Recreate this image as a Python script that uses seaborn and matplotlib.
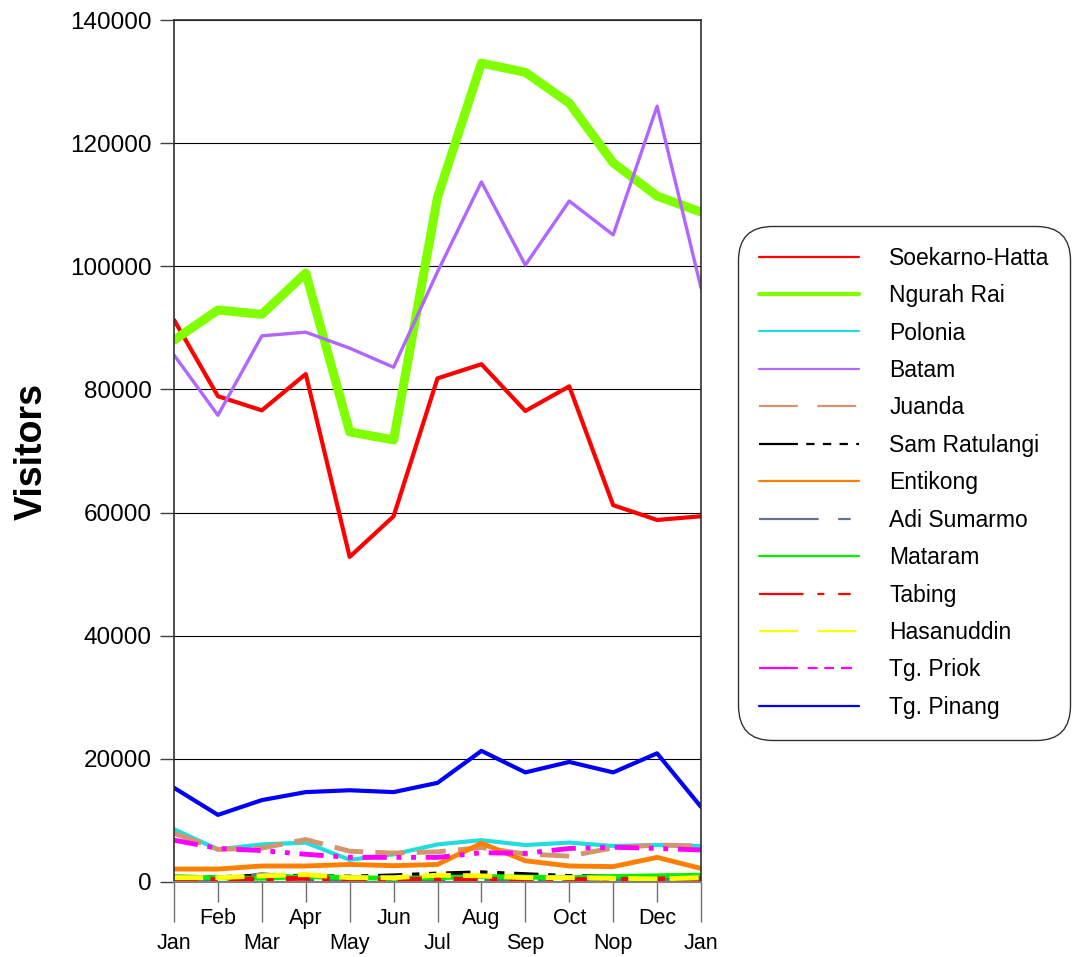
import numpy as np
import matplotlib
matplotlib.use("Agg")
import matplotlib.pyplot as plt
import seaborn as sns

months = ["Jan", "Feb", "Mar", "Apr", "May", "Jun", "Jul", "Aug", "Sep", "Oct", "Nop", "Dec", "Jan"]

soekarno_hatta = [91300, 78900, 76600, 82500, 52800, 59400, 81800, 84100, 76500, 80500, 61200, 58800, 59400]
ngurah_rai = [88000, 92900, 92200, 98900, 73100, 71800, 111200, 133000, 131500, 126500, 116800, 111400, 108800]
polonia = [8560, 5300, 6100, 6400, 3600, 4500, 6100, 6800, 6000, 6400, 5850, 6000, 5850]
batam = [85600, 75800, 88700, 89300, 86700, 83600, 99100, 113700, 100200, 110600, 105100, 126000, 96500]
juanda = [7900, 5300, 5500, 6900, 5000, 4700, 4900, 5600, 4550, 4200, 5550, 6000, 5850]
sam_ratulangi = [800, 700, 1000, 900, 800, 1000, 1300, 1500, 1200, 900, 800, 900, 1000]
entikong = [2100, 2100, 2600, 2600, 2850, 2650, 2850, 6300, 3450, 2600, 2500, 4000, 2200]
adi_sumarmo = [200, 150, 1200, 600, 100, 200, 300, 300, 200, 300, 200, 200, 300]
mataram = [800, 700, 600, 900, 700, 600, 700, 900, 800, 700, 900, 1000, 1100]
tabing = [300, 400, 500, 600, 500, 400, 500, 400, 500, 400, 400, 500, 500]
hasanuddin = [700, 700, 1000, 1200, 700, 700, 1100, 1000, 700, 700, 600, 500, 700]
tg_priok = [6800, 5450, 5100, 4500, 4000, 4000, 4000, 4750, 4650, 5450, 5650, 5450, 5200]
tg_pinang = [15300, 10900, 13300, 14600, 14900, 14600, 16100, 21300, 17800, 19500, 17800, 20900, 12200]

# name, values, colour, line width, dash pattern in plot, dash pattern in legend (pt)
series = [
    ("Soekarno-Hatta", soekarno_hatta, "#FF0000", 3.0, "-", None),
    ("Ngurah Rai", ngurah_rai, "#80FF00", 6.5, "-", None),
    ("Polonia", polonia, "#22DDDD", 3.0, "-", None),
    ("Batam", batam, "#B066FF", 2.4, "-", None),
    ("Juanda", juanda, "#D4956E", 3.5, (0, (6, 2.5)), (28, 14)),
    ("Sam Ratulangi", sam_ratulangi, "#000000", 3.5, (0, (5, 2, 1.5, 2, 1.5, 2)), (28, 6, 6, 6, 6, 6, 6, 6)),
    ("Entikong", entikong, "#FF8000", 3.5, "-", None),
    ("Adi Sumarmo", adi_sumarmo, "#66708F", 3.5, (0, (8, 3, 2, 3)), (43, 14, 9, 14)),
    ("Mataram", mataram, "#00EE00", 3.5, "-", None),
    ("Tabing", tabing, "#FF0000", 3.5, (0, (5, 2.5, 1.5, 2.5)), (32, 10, 5, 10, 9, 10)),
    ("Hasanuddin", hasanuddin, "#FFFF00", 3.5, (0, (6, 2.5)), (28, 14)),
    ("Tg. Priok", tg_priok, "#FF00FF", 3.5, (0, (5, 2, 1, 2, 1, 2)), (28, 7, 7, 5, 7, 5, 8, 7)),
    ("Tg. Pinang", tg_pinang, "#0000FF", 3.0, "-", None),
]

sns.set_style("white")
plt.rcParams["font.family"] = ["Liberation Sans", "DejaVu Sans"]
plt.rcParams["text.color"] = "black"
plt.rcParams["xtick.color"] = "black"
plt.rcParams["ytick.color"] = "black"
plt.rcParams["axes.labelcolor"] = "black"

fig = plt.figure(figsize=(10.87, 9.57), dpi=100)
ax = fig.add_axes([174 / 1087, 75 / 957, 527 / 1087, 862 / 957])

x = np.arange(len(months))
for name, vals, col, lw, ls, _ in series:
    sns.lineplot(x=x, y=vals, color=col, linewidth=lw, linestyle=ls,
                 label=name, ax=ax, sort=False, legend=False)

ax.set_xlim(0, 12)
ax.set_ylim(0, 140000)
ax.set_yticks(np.arange(0, 140001, 20000))
ax.set_yticklabels([str(v) for v in range(0, 140001, 20000)], fontsize=17.5)
ax.yaxis.grid(True, color="black", linewidth=0.8)
ax.set_axisbelow(True)

ax.set_xticks(x[::2])
ax.set_xticklabels(months[::2], fontsize=15.5)
ax.set_xticks(x[1::2], minor=True)
ax.set_xticklabels(months[1::2], minor=True, fontsize=15.5)
ax.tick_params(axis="x", which="both", bottom=True, labelbottom=True,
               width=1, color="#707070", labelcolor="black", direction="out")
ax.tick_params(axis="x", which="major", length=29, pad=8)
ax.tick_params(axis="x", which="minor", length=14.5, pad=4)
ax.tick_params(axis="y", left=True, length=10, width=1, color="#404040",
               labelcolor="black", pad=6)

for s in ["left", "right", "top"]:
    ax.spines[s].set_color("#303030")
    ax.spines[s].set_linewidth(1.2)
ax.spines["bottom"].set_color("#808080")
ax.spines["bottom"].set_linewidth(1.5)

ax.set_ylabel("Visitors", fontsize=27, fontweight="bold", color="black")
ax.yaxis.set_label_coords(-0.235, 0.5)

leg = ax.legend(loc="upper left", bbox_to_anchor=(738 / 1087, 1 - 226 / 957),
                bbox_transform=fig.transFigure, fontsize=16.5, frameon=True,
                fancybox=True, edgecolor="black", handlelength=4.4,
                handletextpad=1.3, labelspacing=0.63, borderpad=0.9,
                borderaxespad=0)
leg.get_frame().set_linewidth(1.0)
leg.get_frame().set_boxstyle("round,pad=0,rounding_size=1.5")
for line, (name, vals, col, lw, ls, legdash) in zip(leg.get_lines(), series):
    hlw = 3.0 if name == "Ngurah Rai" else 1.6
    line.set_linewidth(hlw)
    if legdash is not None:
        line.set_linestyle((0, tuple(d / hlw for d in legdash)))
    else:
        line.set_linestyle("-")

fig.savefig("out.png", dpi=100)
